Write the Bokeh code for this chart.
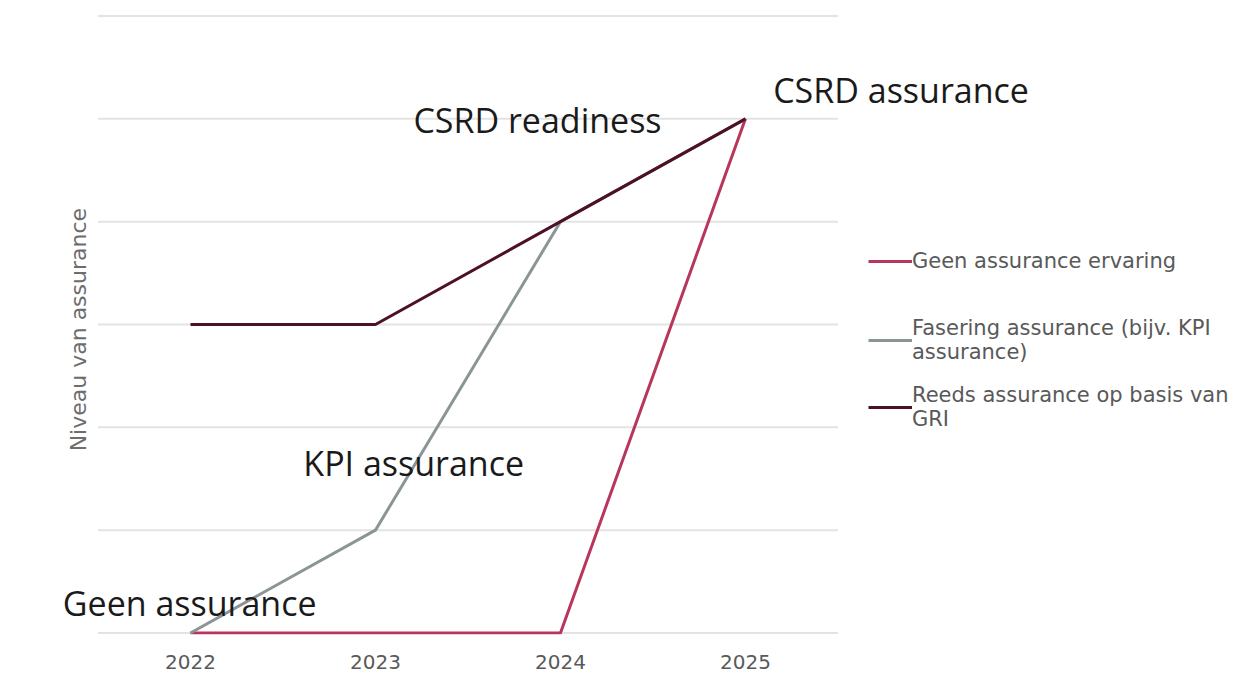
import math
from bokeh.plotting import figure
from bokeh.models import FixedTicker, Legend, LegendItem, Label
from bokeh.embed import file_html
from bokeh.resources import INLINE

years = [2022, 2023, 2024, 2025]
geen = [0, 0, 0, 5]
fasering = [0, 1, 4, 5]
reeds = [3, 3, 4, 5]
series_names = ["Geen assurance ervaring",
                "Fasering assurance (bijv. KPI\nassurance)",
                "Reeds assurance op basis van\nGRI"]
series_colors = ["#b8365c", "#8c9596", "#4e1027"]
grid_levels = [0, 1, 2, 3, 4, 5, 6]
annot_text = ["CSRD assurance", "CSRD readiness", "KPI assurance", "Geen assurance"]
annot_x = [2025.15, 2023.205, 2022.61, 2021.31]
annot_y = [5.28, 4.99, 1.65, 0.29]
y_title = "Niveau van assurance"

p = figure(width=1230, height=672, output_backend="svg", toolbar_location=None,
           x_range=(2020.973, 2027.622), y_range=(-0.015, 6.151),
           min_border_left=0, min_border_right=0, min_border_top=0, min_border_bottom=38)
p.outline_line_color = None
p.background_fill_color = "white"
p.xgrid.grid_line_color = None
p.ygrid.grid_line_color = None
p.yaxis.visible = False

p.xaxis.ticker = FixedTicker(ticks=years)
p.xaxis.axis_line_color = None
p.xaxis.major_tick_line_color = None
p.xaxis.minor_tick_line_color = None
p.xaxis.major_label_text_font = "DejaVu Sans"
p.xaxis.major_label_text_font_size = "20px"
p.xaxis.major_label_text_color = "#595959"
p.xaxis.major_label_standoff = 14

# horizontal grid lines spanning the category range
x_lo, x_hi = years[0] - 0.5, years[-1] + 0.5
p.segment(x0=[x_lo] * len(grid_levels), y0=grid_levels,
          x1=[x_hi] * len(grid_levels), y1=grid_levels,
          line_color="#e3e3e3", line_width=2)

renderers = []
for vals, col in zip([geen, fasering, reeds], series_colors):
    renderers.append(p.line(years, vals, line_color=col, line_width=3))

for t, x, y in zip(annot_text, annot_x, annot_y):
    p.add_layout(Label(x=x, y=y, text=t, text_font="Open Sans", text_font_size="34px",
                       text_color="#1a1a1a", text_baseline="middle", text_align="left"))

p.add_layout(Label(x=2021.395, y=2.95, text=y_title, angle=math.pi / 2,
                   text_font="DejaVu Sans", text_font_size="22px", text_color="#6d6d6d",
                   text_align="center", text_baseline="middle"))

# one legend block per series, stacked like the reference
legend_bottoms = [361, 270, 203]
for name, r, yb in zip(series_names, renderers, legend_bottoms):
    lg = Legend(items=[LegendItem(label=name, renderers=[r])], location=(868, yb))
    lg.border_line_color = None
    lg.background_fill_alpha = 0
    lg.margin = 0
    lg.padding = 0
    lg.glyph_width = 44
    lg.label_standoff = 0
    lg.label_text_font = "DejaVu Sans"
    lg.label_text_font_size = "21px"
    lg.label_text_line_height = 1.35
    lg.label_text_color = "#595959"
    p.add_layout(lg)

open("out.html", "w").write(file_html(p, INLINE))
